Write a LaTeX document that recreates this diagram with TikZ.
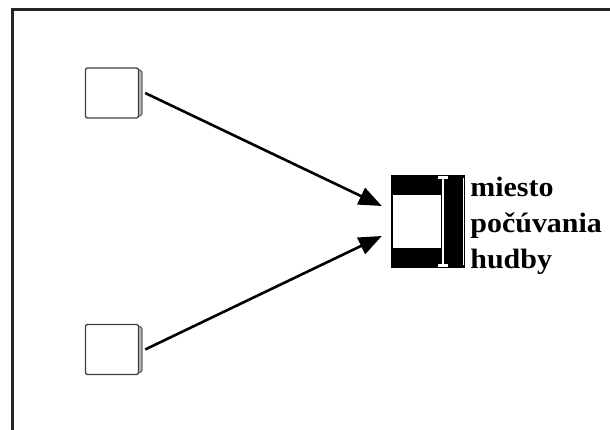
\documentclass[tikz,border=0pt]{standalone}
\usepackage{fontspec}
\newfontfamily\labelfont[FakeStretch=1.07]{Liberation Serif}
\usetikzlibrary{arrows.meta,shadows,positioning}

\begin{document}
\begin{tikzpicture}[x=1pt, y=-1pt,
  frame/.style={line width=3pt, draw=black!85},
  srcbox/.style={draw=black!75, line width=1.3pt, fill=white, rounded corners=2pt, minimum width=53pt, minimum height=50pt, inner sep=0pt,
    general shadow={shadow xshift=6pt, shadow yshift=0pt, shadow scale=0.92, fill=gray!55, draw=black!60}},
  target/.style={fill=black, minimum width=74.5pt, minimum height=93pt, inner sep=0pt},
  lbl/.style={font=\labelfont\bfseries\fontsize{28}{36}\selectfont, align=left, inner sep=0pt},
  arrow/.style={-{Triangle[length=23pt,width=18pt]}, line width=2.6pt}]
  \useasboundingbox (0,0) rectangle (610,430);
  \clip (0,0) rectangle (610,430);
  \draw[frame] (12,440) -- (12,9.5) -- (620,9.5);

  \node[srcbox] (src1) at (112,93) {};
  \node[srcbox] (src2) at (112,349.5) {};
  \node[target] (place) at (427.75,221.5) {};
  \begin{scope}[shift={(place.north west)}]
    \fill[white] (2.5,20) rectangle (50.5,73);
    \fill[white] (51.5,1) rectangle (54,92);
    \fill[white] (47.5,1) rectangle (58,4);
    \fill[white] (47.5,89) rectangle (58,92);
    \fill[black, rounded corners=8pt] (54.5,3) rectangle (72.5,90);
    \fill[white] (72.5,3) rectangle (73.5,90);
  \end{scope}
  \node[lbl, right=5pt of place, yshift=-4.5pt] (placetext) {miesto\\počúvania\\hudby};

  \path[arrow]
  ([xshift=6pt]src1.east) edge ([xshift=-8.5pt,yshift=15.5pt]place.west)
  ([xshift=6pt]src2.east) edge ([xshift=-8.5pt,yshift=-14.5pt]place.west)
  ;
\end{tikzpicture}
\end{document}
